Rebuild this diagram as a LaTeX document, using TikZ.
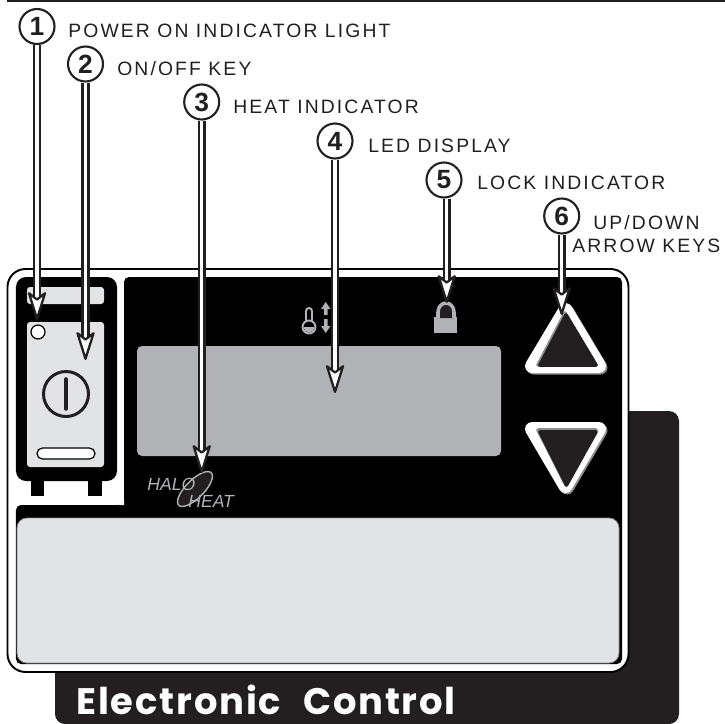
\documentclass[tikz,border=0pt]{standalone}
\usepackage{fontspec}
\usepackage{xcolor}
\usepackage{tikz}
\usetikzlibrary{arrows.meta}
\setmainfont{Liberation Sans}
\newfontfamily\calloutfont[LetterSpace=11]{Liberation Sans}
\newfontfamily\titlefont[LetterSpace=5]{Poppins}
\definecolor{panelblack}{rgb}{0.137,0.122,0.125}
\definecolor{ledgray}{rgb}{0.69,0.70,0.71}
\definecolor{facegray}{rgb}{0.886,0.89,0.898}
\definecolor{keyshade}{rgb}{0.55,0.56,0.57}
\tikzstyle{every node}=[font=\large]
\tikzstyle{callout}=[circle,draw=panelblack,line width=1.2pt,fill=white,inner sep=0pt,minimum size=0.7cm,font=\fontsize{15}{15}\selectfont\bfseries,text=panelblack]
\tikzstyle{calloutlabel}=[anchor=base west,inner sep=0pt,font=\fontsize{11}{11}\calloutfont,text=panelblack]
\tikzstyle{calloutarrow}=[draw=panelblack,line width=1.4pt,double=white,double distance=1.9pt,line cap=butt,-{Stealth[length=18.5pt,width=11.5pt,inset=4.5pt,fill=white,line width=1.3pt,round]}]
\tikzstyle{iconline}=[draw=ledgray,line width=1.1pt]
\tikzstyle{keyface}=[line width=0.28cm]
\tikzstyle{keyinner}=[line width=2pt]

\begin{document}
\begin{tikzpicture}[line cap=round,line join=round,x=0.02cm,y=-0.02cm]
            \useasboundingbox (0,0) rectangle (725,724);
            \fill [white] (0,0) rectangle (725,724);
            \draw [line width=1.1pt,color=panelblack,line cap=butt] (7,1) -- (725,1);
            \fill [panelblack,rounded corners=0.2cm] (55,411) rectangle (679,724);
            \draw [line width=1.1pt,fill=white,rounded corners=0.36cm] (7.5,269) rectangle (628.5,672);
            \fill [black,rounded corners=0.1cm] (124,505) -- (124,277) -- (622,277) -- (622,664) -- (16,664) -- (16,505) -- cycle;
            \fill [white] (124,505) -- (124,500) -- (119,505) -- cycle;
            \draw [draw=keyshade,line width=0.5pt,fill=facegray,rounded corners=0.2cm] (17,518) -- (619,518) -- (619,663) -- (17,663) -- cycle;
            \fill [black,rounded corners=0.2cm] (16,277) rectangle (117,481);
            \fill [black] (31,470) rectangle (44,496);
            \fill [black] (88,470) rectangle (102,496);
            \fill [facegray,rounded corners=0.06cm] (27,287) rectangle (104,304);
            \fill [facegray,rounded corners=0.06cm] (27,322) rectangle (104,467);
            \draw [line width=0.7pt,fill=white] (38,332) circle (7);
            \draw [line width=1.7pt,color=panelblack] (66,394) circle (22.5);
            \draw [line width=2pt,color=panelblack] (66,379) -- (66,409);
            \draw [line width=0.7pt,fill=white,rounded corners=0.11cm] (37,448) rectangle (95,459);
            \fill [ledgray,rounded corners=0.1cm] (137,346) rectangle (501,456);
            \draw [iconline,fill=black] (306,311) arc (180:360:3) -- (312,322) -- (306,322) -- cycle;
            \draw [iconline,fill=black] (309,327) circle (6.5);
            \fill [ledgray] (303.5,327) arc (180:0:5.5) -- cycle;
            \fill [ledgray] (325.7,302) -- (330.5,309) -- (327.5,309) -- (327.5,315) -- (324,315) -- (324,309) -- (321,309) -- cycle;
            \fill [ledgray] (325.7,333) -- (330.5,326) -- (327.5,326) -- (327.5,319) -- (324,319) -- (324,326) -- (321,326) -- cycle;
            \fill [ledgray] (434,317) rectangle (457,333);
            \draw [draw=ledgray,line width=2pt,fill=panelblack,line cap=butt] (438,318) -- (438,312) arc (180:360:8 and 9) -- (454,318);
            \draw [keyface,draw=keyshade,fill=keyshade] (567,311.5) -- (533.5,367.5) -- (600.5,367.5) -- cycle;
            \draw [keyface,draw=white,fill=white] (565.5,310) -- (532,366) -- (599,366) -- cycle;
            \draw [keyinner,draw=keyshade,fill=keyshade] (565,313) -- (538,365) -- (596,365) -- cycle;
            \draw [keyinner,draw=panelblack,fill=panelblack] (566,315) -- (540,365) -- (596,365) -- cycle;
            \draw [keyface,draw=keyshade,fill=keyshade] (533.5,430.5) -- (600.5,430.5) -- (567,487.5) -- cycle;
            \draw [keyface,draw=white,fill=white] (532,429) -- (599,429) -- (565.5,486) -- cycle;
            \draw [keyinner,draw=keyshade,fill=keyshade] (538,430) -- (596,430) -- (566,485) -- cycle;
            \draw [keyinner,draw=panelblack,fill=panelblack] (540,432) -- (596,432) -- (566.5,485) -- cycle;
            \draw [draw=ledgray,line width=0.8pt,fill=panelblack,rotate around={45:(195,489)}] (195,489) ellipse (23 and 9);
            \node [anchor=base west,inner sep=0pt,font=\fontsize{10}{10}\itshape,text=ledgray] (halotext) at (147,490) {HALO};
            \node [anchor=base west,inner sep=0pt,font=\fontsize{10}{10}\itshape,text=ledgray] (heattext) at (188,507) {HEAT};
            \node [anchor=base west,inner sep=0pt,font=\fontsize{21}{21}\titlefont\bfseries,text=white] (titletext) at (76,714) {Electronic\hspace{7pt} Control};
            \node [callout] (c1) at (37,26.5) {1};
            \node [callout] (c2) at (85.5,64) {2};
            \node [callout] (c3) at (201.7,102) {3};
            \node [callout] (c4) at (335,141) {4};
            \node [callout] (c5) at (444,180) {5};
            \node [callout] (c6) at (561.7,216) {6};
            \node [calloutlabel] (l1) at (68,37) {POWER ON INDICATOR LIGHT};
            \node [calloutlabel] (l2) at (117,75) {ON/OFF KEY};
            \node [calloutlabel] (l3) at (233,113) {HEAT INDICATOR};
            \node [calloutlabel] (l4) at (368,152) {LED DISPLAY};
            \node [calloutlabel] (l5) at (477,189) {LOCK INDICATOR};
            \node [calloutlabel] (l6) at (593,229) {UP/DOWN};
            \node [calloutlabel] (l7) at (572,252) {ARROW KEYS};
            \coordinate (t1) at (37,320);
            \coordinate (t2) at (85.5,360);
            \coordinate (t3) at (201.7,473);
            \coordinate (t4) at (335,393);
            \coordinate (t5) at (446.7,303);
            \coordinate (t6) at (561.7,315);
            \draw [calloutarrow] (c1.south) -- (t1);
            \draw [calloutarrow] (c2.south) -- (t2);
            \draw [calloutarrow] (c3.south) -- (t3);
            \draw [calloutarrow] (c4.south) -- (t4);
            \draw [calloutarrow] (c5.south -| t5) -- (t5);
            \draw [calloutarrow] (c6.south) -- (t6);
            \end{tikzpicture}
\end{document}
